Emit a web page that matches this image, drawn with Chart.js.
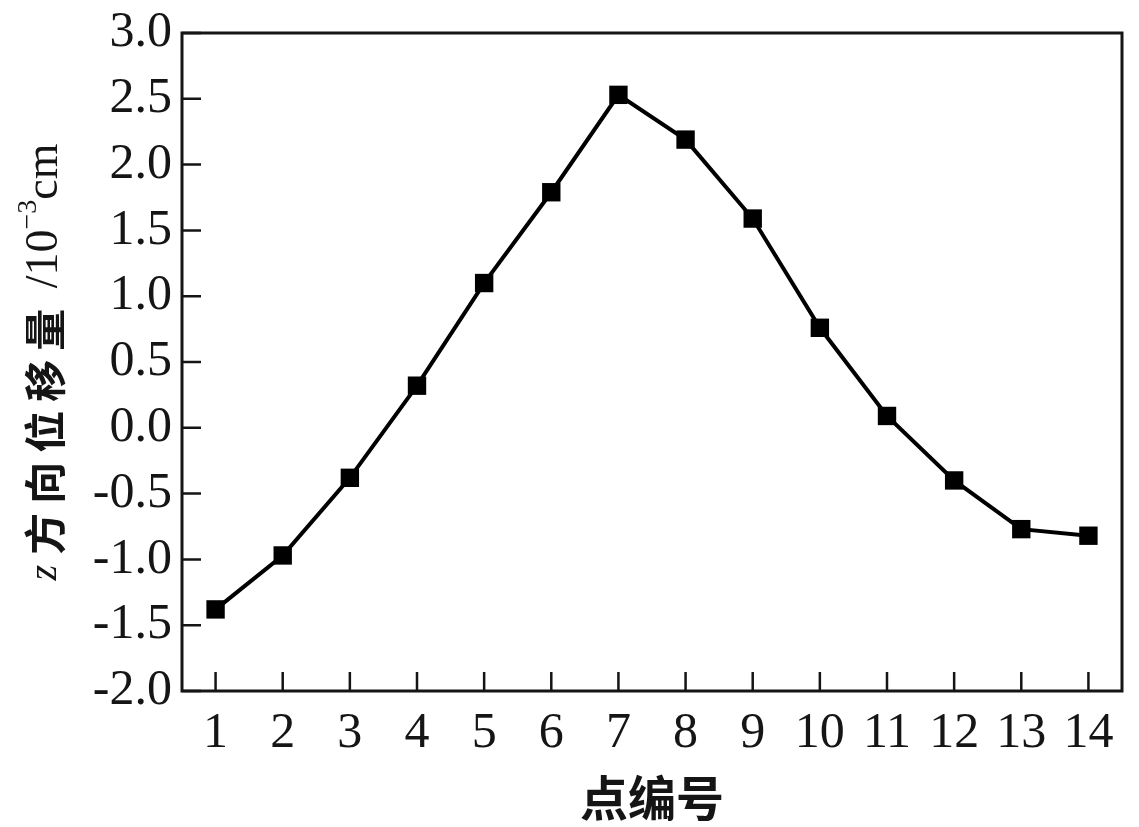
<!DOCTYPE html>
<html>
<head>
<meta charset="utf-8">
<script src="https://cdn.jsdelivr.net/npm/chart.js@4/dist/chart.umd.min.js"></script>
<style>
  body { margin: 0; background: #fff; }
  canvas { display: block; }
</style>
</head>
<body>
<canvas id="chart" width="1139" height="827"></canvas>
<script>
const pointLabels = ['1', '2', '3', '4', '5', '6', '7', '8', '9', '10', '11', '12', '13', '14'];
const zDisplacement = [-1.38, -0.97, -0.38, 0.32, 1.10, 1.79, 2.53, 2.19, 1.59, 0.76, 0.09, -0.40, -0.77, -0.82];
const yMin = -2.0;
const yMax = 3.0;
const yStep = 0.5;

const serif = '"Liberation Serif", "Times New Roman", serif';
const cjk = '"Noto Sans CJK SC", sans-serif';
const inkColor = '#151515';

// box round the plot plus inward tick marks
const framePlugin = {
    id: 'frame',
    beforeDatasetsDraw(chart) {
        const ctx = chart.ctx;
        const area = chart.chartArea;
        const xs = chart.scales.x;
        const ys = chart.scales.y;
        const tickLen = 19;
        ctx.save();
        ctx.strokeStyle = inkColor;
        ctx.lineWidth = 3;
        ctx.strokeRect(area.left, area.top, area.right - area.left, area.bottom - area.top);
        ctx.lineWidth = 2.5;
        ctx.beginPath();
        ys.ticks.forEach(function(t) {
            const y = ys.getPixelForValue(t.value);
            ctx.moveTo(area.left, y);
            ctx.lineTo(area.left + tickLen, y);
        });
        pointLabels.forEach(function(lbl, i) {
            const x = xs.getPixelForValue(i);
            ctx.moveTo(x, area.bottom);
            ctx.lineTo(x, area.bottom - tickLen);
        });
        ctx.stroke();
        ctx.restore();
    }
};

// y title with mixed fonts and a superscript
const yTitlePlugin = {
    id: 'yTitle',
    afterDraw(chart) {
        const ctx = chart.ctx;
        const parts = [
            { text: 'z', font: 'italic 40px ' + serif, dy: 0, spacing: 0 },
            { text: ' ', font: '40px ' + serif, dy: 0, spacing: 0 },
            { text: '方向位移量', font: 'bold 42px ' + cjk, dy: 0, spacing: 9 },
            { text: ' /10', font: '46px ' + serif, dy: 0, spacing: 0 },
            { text: '\u22123', font: '28px ' + serif, dy: -16, spacing: 0 },
            { text: 'cm', font: '46px ' + serif, dy: 0, spacing: 0 }
        ];
        ctx.save();
        let total = 0;
        parts.forEach(function(p) {
            ctx.font = p.font;
            ctx.letterSpacing = p.spacing + 'px';
            p.w = ctx.measureText(p.text).width;
            total += p.w;
        });
        ctx.translate(45, 362);
        ctx.rotate(-Math.PI / 2);
        ctx.fillStyle = inkColor;
        ctx.textBaseline = 'middle';
        ctx.textAlign = 'left';
        let x = -total / 2;
        parts.forEach(function(p) {
            ctx.font = p.font;
            ctx.letterSpacing = p.spacing + 'px';
            ctx.fillText(p.text, x, p.dy);
            x += p.w;
        });
        ctx.restore();
    }
};

const CHdata = {
    labels: pointLabels,
    datasets: [{
        data: zDisplacement,
        borderColor: '#000',
        borderWidth: 4,
        backgroundColor: '#000',
        pointStyle: 'rect',
        pointRadius: 13,
        pointBackgroundColor: '#000',
        pointBorderWidth: 0,
        tension: 0
    }]
};

const CHconfig = {
    type: 'line',
    data: CHdata,
    options: {
        responsive: false,
        animation: false,
        layout: { padding: { top: 33, right: 17, left: 0, bottom: 0 } },
        plugins: {
            legend: { display: false },
            tooltip: { enabled: false }
        },
        scales: {
            x: {
                type: 'category',
                offset: true,
                grid: { display: false, drawTicks: false },
                border: { display: false },
                ticks: {
                    color: inkColor,
                    font: { family: serif, size: 50 },
                    padding: 13,
                    maxRotation: 0,
                    autoSkip: false
                },
                title: {
                    display: true,
                    text: '点编号',
                    color: inkColor,
                    font: { family: cjk, size: 48, weight: 'bold' },
                    padding: { top: 0, bottom: 0 }
                },
                afterFit: function(scale) {
                    scale.height = 136;
                    scale.paddingLeft = 0;
                    scale.paddingRight = 0;
                }
            },
            y: {
                min: yMin,
                max: yMax,
                grid: { display: false, drawTicks: false },
                border: { display: false },
                ticks: {
                    stepSize: yStep,
                    color: inkColor,
                    font: { family: serif, size: 50 },
                    padding: 10,
                    callback: function(v) { return v.toFixed(1); }
                },
                afterFit: function(scale) {
                    scale.width = 182;
                    scale.paddingTop = 0;
                    scale.paddingBottom = 0;
                }
            }
        }
    },
    plugins: [framePlugin, yTitlePlugin]
};

const chart = new Chart(document.getElementById('chart'), CHconfig);
</script>
</body>
</html>
